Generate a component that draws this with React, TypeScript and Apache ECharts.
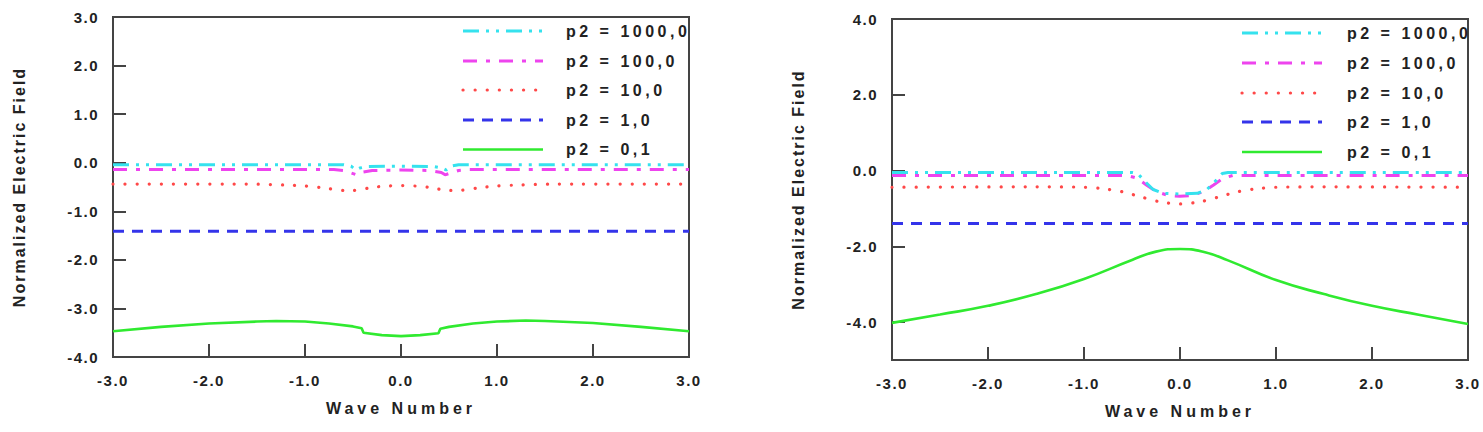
import { useEffect, useRef } from "react";
import * as echarts from "echarts";

// Legend / series labels (decimal comma as printed)
const seriesNames = ["p2 = 1000,0", "p2 = 100,0", "p2 = 10,0", "p2 = 1,0", "p2 = 0,1"];

// Left panel: [wave number, normalized field]
const leftP1000 = [[-3, -0.04], [-1, -0.04], [-0.6, -0.04], [-0.52, -0.07], [-0.47, -0.15], [-0.43, -0.11], [-0.35, -0.08], [0, -0.07], [0.35, -0.08], [0.43, -0.11], [0.47, -0.15], [0.52, -0.07], [0.6, -0.04], [1, -0.04], [3, -0.04]];
const leftP100 = [[-3, -0.14], [-0.7, -0.14], [-0.6, -0.16], [-0.52, -0.21], [-0.46, -0.25], [-0.42, -0.2], [-0.3, -0.16], [0, -0.15], [0.3, -0.16], [0.42, -0.2], [0.46, -0.25], [0.52, -0.21], [0.6, -0.16], [0.7, -0.14], [3, -0.14]];
const leftP10 = [[-3, -0.44], [-1.6, -0.44], [-1.2, -0.46], [-1, -0.48], [-0.8, -0.52], [-0.6, -0.57], [-0.5, -0.57], [-0.3, -0.51], [-0.15, -0.48], [0, -0.47], [0.15, -0.48], [0.3, -0.51], [0.5, -0.57], [0.6, -0.57], [0.8, -0.52], [1, -0.48], [1.2, -0.46], [1.6, -0.44], [3, -0.44]];
const leftP1 = [[-3, -1.41], [3, -1.41]];
const leftP01 = [[-3, -3.47], [-2.5, -3.38], [-2, -3.31], [-1.5, -3.27], [-1.3, -3.26], [-1, -3.27], [-0.75, -3.31], [-0.5, -3.37], [-0.41, -3.41], [-0.39, -3.5], [-0.2, -3.55], [0, -3.57], [0.2, -3.55], [0.39, -3.51], [0.41, -3.42], [0.5, -3.38], [0.75, -3.31], [1, -3.27], [1.3, -3.25], [1.5, -3.26], [2, -3.3], [2.5, -3.38], [3, -3.47]];

// Right panel
const rightP1000 = [[-3, -0.05], [-0.5, -0.05], [-0.44, -0.08], [-0.36, -0.3], [-0.28, -0.5], [-0.18, -0.6], [0, -0.62], [0.18, -0.6], [0.28, -0.5], [0.36, -0.3], [0.44, -0.08], [0.5, -0.05], [3, -0.05]];
const rightP100 = [[-3, -0.13], [-0.55, -0.13], [-0.45, -0.2], [-0.35, -0.38], [-0.25, -0.55], [-0.12, -0.66], [0, -0.68], [0.12, -0.66], [0.25, -0.55], [0.35, -0.38], [0.45, -0.2], [0.55, -0.13], [3, -0.13]];
const rightP10 = [[-3, -0.44], [-1.5, -0.43], [-1, -0.44], [-0.8, -0.48], [-0.6, -0.56], [-0.4, -0.7], [-0.2, -0.83], [0, -0.88], [0.2, -0.83], [0.4, -0.7], [0.6, -0.56], [0.8, -0.48], [1, -0.44], [1.5, -0.43], [3, -0.44]];
const rightP1 = [[-3, -1.4], [3, -1.4]];
const rightP01 = [[-3, -4.02], [-2.5, -3.8], [-2, -3.57], [-1.5, -3.26], [-1, -2.86], [-0.5, -2.36], [-0.25, -2.14], [0, -2.07], [0.25, -2.15], [0.5, -2.37], [1, -2.89], [1.5, -3.26], [2, -3.57], [2.5, -3.81], [3, -4.05]];

const leftSeries = [leftP1000, leftP100, leftP10, leftP1, leftP01];
const rightSeries = [rightP1000, rightP100, rightP10, rightP1, rightP01];

const xTicks = [-3, -2, -1, 0, 1, 2, 3];
const rightYTicks = [-4, -2, 0, 2, 4];

// Line appearance per series
const colors = ["#35e2ee", "#ee44ee", "#ff4848", "#3434ea", "#30ea30"];
const dashes: (number[] | null)[] = [[16, 7, 3, 7, 3, 7], [14, 9, 4, 9], [0.1, 12], [11, 8], null];
const widths = [3, 3, 3.2, 3, 2.6];
const caps = ["butt", "butt", "round", "butt", "butt"];
// Curve smoothing per panel and series
const leftSmooth = [false, false, 0.3, false, false];
const rightSmooth = [false, false, 0.3, false, 0.5];

const FONT = '"Liberation Sans", Arial, sans-serif';
const TXT = "#222";
const AXIS = "#444";

// Extra tracking for the printed labels (SVG letter-spacing)
const spacing: Record<string, string> = {
  "Wave Number": "4px",
  "Normalized Electric Field": "2px",
};
seriesNames.forEach((n) => (spacing[n] = "3.5px"));

function applySpacing(root: HTMLElement) {
  root.querySelectorAll("text").forEach((t) => {
    const s = spacing[(t.textContent || "").trim()];
    (t as SVGTextElement).style.letterSpacing = s ?? "1.5px";
  });
}

export default function App() {
  const ref = useRef<HTMLDivElement>(null);

  useEffect(() => {
    const el = ref.current;
    if (!el) return;
    const chart = echarts.init(el, null, { renderer: "svg" });

    const grids = [
      { left: 113, top: 17, width: 576, height: 340 },
      { left: 892, top: 19, width: 576, height: 341 },
    ];

    const labelStyle = { fontFamily: FONT, fontWeight: "bold" as const, fontSize: 15, color: TXT };
    const nameStyle = { fontFamily: FONT, fontWeight: "bold" as const, fontSize: 16, color: TXT };
    const tick = { show: true, inside: true, length: 13, lineStyle: { color: AXIS, width: 2 } };
    const line = { show: true, onZero: false, lineStyle: { color: AXIS, width: 2 } };

    const xAxis = grids.map((_, i) => ({
      type: "value" as const,
      gridIndex: i,
      min: -3,
      max: 3,
      interval: 1,
      name: "Wave Number",
      nameLocation: "middle" as const,
      nameGap: 43,
      nameTextStyle: nameStyle,
      axisLine: line,
      axisTick: { ...tick, customValues: xTicks },
      axisLabel: { ...labelStyle, margin: 16, customValues: xTicks, formatter: (v: number) => v.toFixed(1) },
      splitLine: { show: false },
    }));

    const yAxis = [
      {
        type: "value" as const,
        gridIndex: 0,
        min: -4,
        max: 3,
        interval: 1,
        name: "Normalized Electric Field",
        nameLocation: "middle" as const,
        nameGap: 86,
        nameTextStyle: nameStyle,
        axisLine: line,
        axisTick: tick,
        axisLabel: { ...labelStyle, margin: 14, formatter: (v: number) => v.toFixed(1) },
        splitLine: { show: false },
      },
      {
        type: "value" as const,
        gridIndex: 1,
        min: -5,
        max: 4,
        interval: 1,
        name: "Normalized Electric Field",
        nameLocation: "middle" as const,
        nameGap: 86,
        nameTextStyle: nameStyle,
        axisLine: line,
        axisTick: { ...tick, customValues: rightYTicks },
        axisLabel: { ...labelStyle, margin: 14, customValues: rightYTicks, formatter: (v: number) => v.toFixed(1) },
        splitLine: { show: false },
      },
    ];

    const makeSeries = (sets: number[][][], gi: number, smooth: (number | boolean)[]) =>
      sets.map((data, j) => ({
        type: "line" as const,
        name: seriesNames[j],
        xAxisIndex: gi,
        yAxisIndex: gi,
        data,
        symbol: "none",
        smooth: smooth[j],
        z: 10 - j,
        silent: true,
        lineStyle: {
          color: colors[j],
          width: widths[j],
          type: dashes[j] ?? "solid",
          cap: caps[j],
        },
      }));

    // Legend drawn as sample strokes plus labels, one block per panel
    const legendBlock = (lineX: number, textX: number, ys: number[]) =>
      seriesNames.flatMap((name, j) => [
        {
          type: "line",
          shape: { x1: lineX, y1: ys[j], x2: lineX + 80, y2: ys[j] },
          style: {
            stroke: colors[j],
            lineWidth: widths[j],
            lineDash: dashes[j] ?? undefined,
            lineCap: caps[j],
          },
          silent: true,
        },
        {
          type: "text",
          x: textX,
          y: ys[j],
          style: {
            text: name,
            font: `bold 16px ${FONT}`,
            fill: TXT,
            verticalAlign: "middle",
            textVerticalAlign: "middle",
          },
          silent: true,
        },
      ]);

    chart.on("finished", () => applySpacing(el));

    chart.setOption({
      animation: false,
      backgroundColor: "#ffffff",
      grid: grids.map((g) => ({ ...g, show: true, borderColor: AXIS, borderWidth: 2, backgroundColor: "transparent" })),
      xAxis,
      yAxis,
      series: [...makeSeries(leftSeries, 0, leftSmooth), ...makeSeries(rightSeries, 1, rightSmooth)],
      graphic: [
        ...legendBlock(463, 566, [31, 61, 90, 120, 149.5]),
        ...legendBlock(1242, 1347, [33, 63, 93, 122, 152]),
      ],
    });
    applySpacing(el);

    return () => chart.dispose();
  }, []);

  return <div ref={ref} style={{ position: "absolute", left: 0, top: 0, width: 1483, height: 432 }} />;
}
